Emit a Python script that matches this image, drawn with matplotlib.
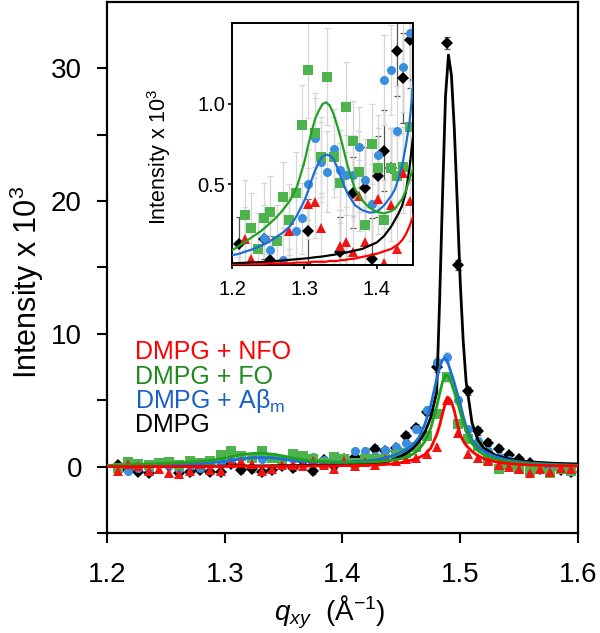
import numpy as np
import matplotlib
matplotlib.use("Agg")
import matplotlib.pyplot as plt

plt.rcParams['font.family'] = ['Liberation Sans', 'DejaVu Sans']
plt.rcParams['mathtext.fontset'] = 'custom'
plt.rcParams['mathtext.rm'] = 'Liberation Sans'
plt.rcParams['mathtext.it'] = 'Liberation Sans:italic'

# ===== data (Intensity x 10^3) =====
q = [1.2090, 1.2178, 1.2265, 1.2353, 1.2440, 1.2528, 1.2615, 1.2703, 1.2790,
     1.2878, 1.2965, 1.3053, 1.3140, 1.3228, 1.3315, 1.3403, 1.3490, 1.3578,
     1.3665, 1.3753, 1.3840, 1.3928, 1.4015, 1.4103, 1.4190, 1.4278, 1.4365,
     1.4453, 1.4540, 1.4628, 1.4715, 1.4803, 1.4890, 1.4978, 1.5065, 1.5153,
     1.5240, 1.5328, 1.5415, 1.5503, 1.5590, 1.5678, 1.5765, 1.5853, 1.5940]

dmpg = [0.13, -0.28, -0.40, -0.45, 0.16, 0.03, -0.50, -0.40, -0.25, -0.38,
        -0.40, 0.21, -0.28, -0.20, -0.40, -0.28, 0.08, -0.10, 0.45, -0.33,
        0.48, 0.04, 0.55, 0.71, 0.60, 1.33, 1.16, 1.40, 2.33, 2.90,
        4.15, 7.50, 31.9, 15.2, 5.70, 2.70, 1.80, 1.35, 0.86, 0.60,
        0.25, -0.15, -0.08, -0.25, -0.40]
dmpg_err = [0.17, 0.15, 0.15, 0.15, 0.12, 0.15, 0.15, 0.15, 0.15, 0.18,
            0.18, 0.20, 0.20, 0.20, 0.20, 0.22, 0.22, 0.22, 0.22, 0.25,
            0.25, 0.25, 0.25, 0.25, 0.25, 0.28, 0.28, 0.30, 0.30, 0.30,
            0.30, 0.35, 0.45, 0.40, 0.30, 0.30, 0.28, 0.25, 0.25, 0.22,
            0.20, 0.20, 0.20, 0.20, 0.20]

fo = [-0.10, 0.31, 0.23, 0.10, 0.29, 0.33, 0.15, 0.42, 0.28, 0.45,
      0.87, 1.21, 0.82, 0.67, 1.17, 0.67, 0.51, 0.98, 0.77, 0.58,
      0.25, 0.75, 0.60, 0.28, 0.60, 0.55, 0.61, 0.86, 1.06, 1.44,
      2.32, 3.96, 6.74, 3.20, 2.07, 1.57, 0.50, -0.15, 0.10, -0.20,
      -0.30, -0.10, -0.45, -0.20, -0.30]
fo_err = [0.22, 0.22, 0.22, 0.22, 0.22, 0.22, 0.22, 0.22, 0.22, 0.25,
          0.25, 0.30, 0.25, 0.25, 0.30, 0.25, 0.25, 0.28, 0.25, 0.25,
          0.25, 0.25, 0.25, 0.25, 0.25, 0.25, 0.25, 0.28, 0.28, 0.30,
          0.30, 0.30, 0.35, 0.30, 0.28, 0.25, 0.22, 0.22, 0.22, 0.22,
          0.22, 0.22, 0.22, 0.22, 0.22]

abm = [-0.15, -0.30, -0.10, -0.20, 0.17, 0.09, -0.20, 0.03, -0.10, 0.21,
       0.29, 0.50, 0.79, 0.64, 0.58, 0.72, 0.59, 0.56, 0.56, 0.73,
       0.53, 0.38, 0.68, 1.15, 1.21, 0.83, 1.23, 1.44, 1.75, 2.80,
       4.30, 7.90, 8.26, 5.00, 2.80, 1.95, 1.20, 0.70, 0.50, 0.20,
       0.10, -0.10, 0.00, -0.20, -0.10]
abm_err = [0.20, 0.20, 0.20, 0.20, 0.20, 0.20, 0.20, 0.20, 0.20, 0.22,
           0.22, 0.22, 0.25, 0.25, 0.25, 0.25, 0.25, 0.25, 0.25, 0.25,
           0.25, 0.25, 0.25, 0.28, 0.28, 0.28, 0.28, 0.28, 0.28, 0.30,
           0.30, 0.32, 0.35, 0.30, 0.28, 0.25, 0.22, 0.22, 0.22, 0.22,
           0.20, 0.20, 0.20, 0.20, 0.20]

nfo = [-0.30, 0.16, 0.04, -0.30, -0.20, -0.45, -0.55, -0.35, 0.21, -0.25,
       -0.30, 0.38, 0.39, 0.23, -0.30, -0.20, 0.12, 0.14, 0.08, 0.43,
       0.14, -0.20, 0.41, 0.01, 0.37, 0.10, 0.57, 0.40, 0.55, 0.68,
       0.93, 1.44, 4.98, 2.50, 0.93, 0.68, 0.43, 0.10, 0.00, -0.20,
       -0.45, -0.20, -0.40, -0.10, -0.20]
nfo_err = [0.20, 0.20, 0.20, 0.20, 0.20, 0.20, 0.20, 0.20, 0.20, 0.20,
           0.20, 0.22, 0.22, 0.22, 0.22, 0.22, 0.22, 0.22, 0.22, 0.22,
           0.22, 0.22, 0.22, 0.22, 0.22, 0.22, 0.25, 0.25, 0.25, 0.25,
           0.25, 0.25, 0.30, 0.25, 0.25, 0.22, 0.22, 0.20, 0.20, 0.20,
           0.20, 0.20, 0.20, 0.20, 0.20]

# fit curves
fit_q = [1.200, 1.210, 1.220, 1.230, 1.240, 1.250, 1.260, 1.270, 1.280, 1.290,
         1.300, 1.305, 1.310, 1.315, 1.320, 1.325, 1.330, 1.335, 1.340, 1.345,
         1.350, 1.355, 1.360, 1.370, 1.380, 1.390, 1.400, 1.410, 1.420, 1.425,
         1.430, 1.435, 1.440, 1.445, 1.450, 1.455, 1.460, 1.465, 1.470, 1.475,
         1.480, 1.4825, 1.485, 1.4875, 1.490, 1.4925, 1.495, 1.4975, 1.500, 1.5025,
         1.505, 1.510, 1.515, 1.520, 1.530, 1.540, 1.550, 1.560, 1.580, 1.600]

fit_dmpg = [0.010, 0.012, 0.014, 0.016, 0.018, 0.020, 0.024, 0.028, 0.032, 0.036,
            0.040, 0.042, 0.045, 0.048, 0.050, 0.053, 0.056, 0.060, 0.063, 0.067,
            0.070, 0.074, 0.080, 0.090, 0.100, 0.120, 0.140, 0.180, 0.240, 0.280,
            0.320, 0.370, 0.450, 0.600, 0.800, 1.05, 1.40, 1.90, 2.60, 3.70,
            5.60, 12.5, 20.5, 27.9, 31.0, 29.5, 25.4, 19.8, 13.9, 9.50,
            6.40, 3.30, 2.00, 1.40, 0.85, 0.60, 0.45, 0.35, 0.25, 0.20]

fit_fo = [0.09, 0.12, 0.15, 0.18, 0.21, 0.25, 0.29, 0.34, 0.40, 0.49,
          0.64, 0.74, 0.83, 0.91, 0.96, 1.00, 1.01, 0.99, 0.94, 0.87,
          0.79, 0.70, 0.61, 0.47, 0.40, 0.355, 0.33, 0.32, 0.335, 0.35,
          0.38, 0.41, 0.46, 0.53, 0.60, 0.75, 0.95, 1.30, 1.90, 2.90,
          4.50, 5.50, 6.40, 6.90, 6.80, 6.30, 5.60, 4.90, 4.10, 3.30,
          2.70, 1.75, 1.20, 0.90, 0.55, 0.38, 0.28, 0.20, 0.12, 0.08]

fit_abm = [0.06, 0.07, 0.085, 0.10, 0.12, 0.14, 0.17, 0.20, 0.24, 0.31,
           0.40, 0.46, 0.53, 0.59, 0.64, 0.675, 0.685, 0.68, 0.66, 0.61,
           0.55, 0.49, 0.44, 0.37, 0.34, 0.325, 0.33, 0.37, 0.43, 0.47,
           0.54, 0.62, 0.74, 0.88, 1.10, 1.30, 1.65, 2.20, 3.20, 4.60,
           6.60, 7.50, 8.05, 8.15, 7.70, 7.00, 6.30, 5.50, 4.70, 3.80,
           3.00, 2.00, 1.50, 1.15, 0.75, 0.50, 0.36, 0.27, 0.16, 0.10]

fit_nfo = [0.000, 0.000, 0.000, 0.005, 0.005, 0.010, 0.010, 0.010, 0.010, 0.015,
           0.015, 0.015, 0.020, 0.020, 0.020, 0.020, 0.020, 0.025, 0.025, 0.025,
           0.030, 0.030, 0.035, 0.040, 0.050, 0.060, 0.070, 0.085, 0.100, 0.115,
           0.130, 0.155, 0.190, 0.240, 0.300, 0.400, 0.520, 0.680, 0.920, 1.40,
           2.40, 3.10, 4.00, 4.80, 5.20, 4.90, 4.20, 3.20, 2.40, 1.95,
           1.60, 1.15, 0.82, 0.60, 0.36, 0.24, 0.17, 0.12, 0.07, 0.05]

series = [
    # label, points, errors, fit, marker, marker color, line color, err color, text color
    ("DMPG", dmpg, dmpg_err, fit_dmpg, 'D', 'black', 'black', '#555555', 'black'),
    ("DMPG + A\u03b2$_\\mathregular{m}$", abm, abm_err, fit_abm, 'o', '#3a8ee0', '#1c6fd4', '#d6d6d6', '#1a60c8'),
    ("DMPG + FO", fo, fo_err, fit_fo, 's', '#4db34d', '#21a121', '#d6d6d6', '#1e8a1e'),
    ("DMPG + NFO", nfo, nfo_err, fit_nfo, '^', '#f01515', '#ff0000', '#d6d6d6', '#ff0000'),
]

fig = plt.figure(figsize=(6.0, 6.33), dpi=100)
ax = fig.add_axes([0.1783, 0.1580, 0.785, 0.8389])
ins = fig.add_axes([0.3867, 0.5814, 0.3017, 0.3815])


def draw(a, ms, lw, capsize):
    for label, y, e, f, m, mc, lc, ec, tc in series:
        a.errorbar(q, y, yerr=e, fmt='none', ecolor=ec, elinewidth=0.9,
                   capsize=capsize, capthick=0.9, zorder=1)
        a.plot(q, y, linestyle='none', marker=m, ms=ms, color=mc,
               markeredgewidth=0, zorder=2)
        a.plot(fit_q, f, color=lc, lw=lw, zorder=3, solid_capstyle='round')


draw(ax, 6.5, 2.0, 2.5)
draw(ins, 6.5, 1.6, 2.5)

# ===== main axes =====
ax.set_xlim(1.2, 1.6)
ax.set_ylim(-5, 35)
ax.set_xticks([1.2, 1.3, 1.4, 1.5, 1.6])
ax.set_xticklabels(['1.2', '1.3', '1.4', '1.5', '1.6'])
ax.set_yticks([-5, 0, 5, 10, 15, 20, 25, 30])
ax.set_yticklabels(['', '0', '', '10', '', '20', '', '30'])
ax.tick_params(direction='out', length=7, width=1.5, labelsize=20)
ax.tick_params(axis='x', pad=14)
ax.tick_params(axis='y', pad=11)
for s in ax.spines.values():
    s.set_linewidth(1.6)

fig.text(27 / 600, 1 - 283 / 633, 'Intensity x 10$^\\mathregular{3}$', rotation=90,
         ha='center', va='center', fontsize=22)
fig.text(330 / 600, 1 - 612 / 633, '$q_{xy}$  (\u00c5$^\\mathregular{-1}$)',
         ha='center', va='center', fontsize=20)

# legend as coloured text
for i, (label, y, e, f, m, mc, lc, ec, tc) in enumerate(series[::-1]):
    ax.text(135 / 600, 1 - (352 + 24.5 * i) / 633, label, transform=fig.transFigure,
            color=tc, fontsize=18, ha='left', va='center')

# ===== inset =====
ins.set_xlim(1.2, 1.45)
ins.set_ylim(0, 1.5)
ins.set_xticks([1.2, 1.3, 1.4])
ins.set_yticks([0.5, 1.0])
ins.tick_params(direction='out', length=3, width=1.2, labelsize=14.5, pad=2)
ins.tick_params(axis='x', pad=8)
ins.set_facecolor('white')
for s in ins.spines.values():
    s.set_linewidth(1.4)
fig.text(159 / 600, 1 - 157 / 633, 'Intensity x 10$^\\mathregular{3}$', rotation=90,
         ha='center', va='center', fontsize=15.5)

fig.savefig('out.png', dpi=100)
